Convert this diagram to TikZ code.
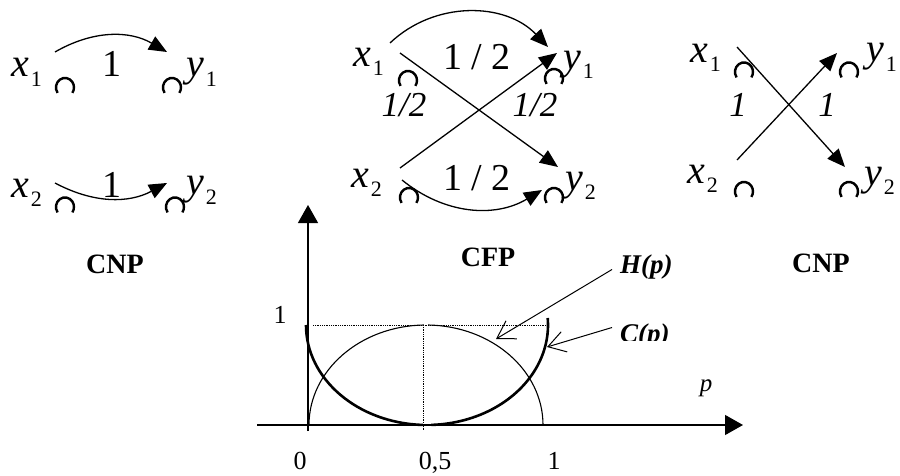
\documentclass[tikz,border=0pt]{standalone}
\usepackage{fontspec}
\setmainfont{Liberation Serif}
\usetikzlibrary{arrows.meta}
\newcommand\vlbl[2]{\textit{#1}\hspace{2pt}\raisebox{-9pt}{\fontsize{22}{24}\selectfont #2}}
\tikzset{
  pnt/.style={minimum width=20pt,minimum height=15pt,inner sep=0pt},
  ring/.style={line width=2.4pt},
  lbl/.style={inner sep=0pt,anchor=base west,font=\fontsize{40}{42}\selectfont},
  wt/.style={inner sep=0pt,anchor=base,font=\fontsize{38}{40}\selectfont},
  iwt/.style={inner sep=0pt,anchor=base,font=\fontsize{35}{37}\selectfont\itshape},
  arr/.style={line width=1.3pt,-{Triangle[length=18pt,width=15pt]}},
  barb/.style={line width=1pt,-{Straight Barb[length=17pt,width=21pt]}},
  ttl/.style={font=\fontsize{28}{30}\selectfont\bfseries},
  tick/.style={inner sep=0pt,anchor=base,text depth=0pt,font=\fontsize{26}{28}\selectfont},
  fn/.style={inner sep=0pt,anchor=base west,font=\fontsize{27}{29}\selectfont\bfseries\itshape},
}

\begin{document}
\begin{tikzpicture}[x=1pt,y=1pt]
  \useasboundingbox (0,0) rectangle (900,475);
  % left channel
  \node[lbl] (lx1) at (11,398) {\vlbl{x}{1}};
  \node[pnt] (la1) at (65,389.5) {};
  \node[pnt] (lb1) at (172,389.5) {};
  \node[lbl] (ly1) at (186,398) {\vlbl{y}{1}};
  \node[wt] (lw1) at (112,398) {1};
  \node[lbl] (lx2) at (11,278) {\vlbl{x}{2}};
  \node[pnt] (la2) at (65,270) {};
  \node[pnt] (lb2) at (175,270) {};
  \node[lbl] (ly2) at (186,280) {\vlbl{y}{2}};
  \node[wt] (lw2) at (112,278) {1};
  \draw[arr] ([shift={(-10,33.5)}]la1.center) to[bend left=30] ([shift={(-5,33.5)}]lb1.center);
  \draw[arr] ([shift={(-10,22)}]la2.center) to[bend right=28] ([shift={(-8,22)}]lb2.center);
  \node[ttl] (lcap) at (115,211) {CNP};
  % middle channel
  \node[lbl] (mx1) at (353,408) {\vlbl{x}{1}};
  \node[pnt] (ma1) at (408,396.5) {};
  \node[pnt] (mb1) at (554,398.5) {};
  \node[lbl] (my1) at (563,405) {\vlbl{y}{1}};
  \node[wt] (mw1) at (477,405) {1 / 2};
  \node[iwt] (mw2) at (404,358) {1/2};
  \node[iwt] (mw3) at (535,358) {1/2};
  \node[lbl] (mx2) at (351,288) {\vlbl{x}{2}};
  \node[pnt] (ma2) at (409,279.5) {};
  \node[pnt] (mb2) at (554,279.5) {};
  \node[lbl] (my2) at (565,285) {\vlbl{y}{2}};
  \node[wt] (mw4) at (477,285) {1 / 2};
  \draw[arr] ([shift={(-18,35.5)}]ma1.center) to[bend left=45] ([shift={(-6,29.5)}]mb1.center);
  \draw[arr] ([shift={(-8,25.5)}]ma1.center) -- ([shift={(4,28.5)}]mb2.center);
  \draw[arr] ([shift={(-9,27.5)}]ma2.center) -- ([shift={(3,23.5)}]mb1.center);
  \draw[arr] ([shift={(-7,15.5)}]ma2.center) to[bend right=35] ([shift={(-12,5.5)}]mb2.center);
  \node[ttl] (mcap) at (488,218) {CFP};
  % right channel
  \node[lbl] (rx1) at (690,412) {\vlbl{x}{1}};
  \node[pnt] (ra1) at (744,405) {};
  \node[pnt] (rb1) at (849,405) {};
  \node[lbl] (ry1) at (866,413) {\vlbl{y}{1}};
  \node[iwt] (rw1) at (738,358) {1};
  \node[iwt] (rw2) at (827,358) {1};
  \node[lbl] (rx2) at (687,292) {\vlbl{x}{2}};
  \node[pnt] (ra2) at (744,285.5) {};
  \node[pnt] (rb2) at (849,285.5) {};
  \node[lbl] (ry2) at (864,290) {\vlbl{y}{2}};
  \draw[arr] ([shift={(-7,23)}]ra1.center) -- ([shift={(-4,22.5)}]rb2.center);
  \draw[arr] ([shift={(-7,29.5)}]ra2.center) -- ([shift={(-12,17)}]rb1.center);
  \node[ttl] (rcap) at (821,212) {CNP};
  % the little open rings
  \foreach \n in {la1,lb1,la2,lb2,ma1,mb1,ma2,mb2,ra1,rb1,ra2,rb2}
    \draw[ring] ([shift={(-7.4,-7.4)}]\n.center) arc[start angle=215,end angle=-35,x radius=9pt,y radius=9.5pt];
  % graph
  \coordinate (ybot) at (308,44);
  \coordinate (ytop) at (308,270);
  \coordinate (xl) at (257,50);
  \coordinate (xr) at (743,50);
  \draw[line width=1.3pt,-{Triangle[length=18pt,width=20pt]}] (ybot) -- (ytop);
  \draw[line width=1.3pt,-{Triangle[length=18pt,width=20pt]}] (xl) -- (xr);
  \draw[densely dotted,line width=0.8pt] (313,150) -- (548,150);
  \draw[densely dotted,line width=0.8pt] (423,150) -- (423,45);
  \draw[line width=1.1pt] (309,50) arc[start angle=180,end angle=91,x radius=117pt,y radius=100pt];
  \draw[line width=1.1pt] (543,50) arc[start angle=0,end angle=89,x radius=117pt,y radius=100pt];
  \draw[line width=2.6pt] (306,150) arc[start angle=180,end angle=268,x radius=121pt,y radius=100pt];
  \draw[line width=2.6pt] (547.7,157) arc[start angle=4,end angle=-88,x radius=121pt,y radius=100pt];
  \node[tick] (t1) at (280,152) {1};
  \node[tick] (t0) at (300,6) {0};
  \node[tick] (th) at (435,6) {0,5};
  \node[tick] (tx) at (554,6) {1};
  \node[tick,font=\fontsize{25}{27}\selectfont\itshape] (pl) at (706,84) {p};
  \node[fn] (hl) at (620,202) {H(p)};
  \begin{scope}
    \clip (600,135) rectangle (700,175);
    \node[fn] (cl) at (620,133) {C(p)};
  \end{scope}
  \coordinate (hp) at (496,136);
  \coordinate (cp) at (547,128);
  \draw[barb] ([shift={(-8,-3)}]hl.west) -- (hp);
  \draw[barb] ([shift={(-8,8)}]cl.west) -- (cp);
\end{tikzpicture}
\end{document}
